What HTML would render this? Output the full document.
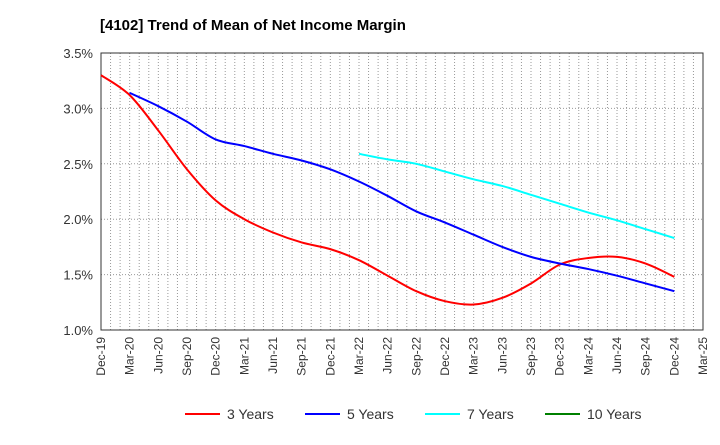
<!DOCTYPE html>
<html><head><meta charset="utf-8"><style>
body{margin:0;background:#fff;font-family:"Liberation Sans",Arial,sans-serif}
</style></head><body>
<svg id="chart" width="720" height="440" xmlns="http://www.w3.org/2000/svg">
<text x="100" y="30" font-size="15" font-weight="bold" fill="#000">[4102]  Trend of Mean of Net Income Margin</text>
<g id="grid"></g><g id="axes"></g><g id="series"></g><g id="legend"></g>
</svg>
<script>
const categories=["Dec-19","Mar-20","Jun-20","Sep-20","Dec-20","Mar-21","Jun-21","Sep-21","Dec-21","Mar-22","Jun-22","Sep-22","Dec-22","Mar-23","Jun-23","Sep-23","Dec-23","Mar-24","Jun-24","Sep-24","Dec-24","Mar-25"];
const yTicks=[1.0,1.5,2.0,2.5,3.0,3.5];
const y3=[3.30,3.12,2.80,2.45,2.17,2.00,1.88,1.79,1.73,1.63,1.49,1.35,1.26,1.23,1.29,1.42,1.59,1.65,1.66,1.60,1.48];
const y5=[null,3.14,3.02,2.88,2.72,2.66,2.59,2.53,2.45,2.34,2.21,2.07,1.97,1.86,1.75,1.66,1.60,1.55,1.49,1.42,1.35];
const y7=[null,null,null,null,null,null,null,null,null,2.59,2.54,2.50,2.43,2.36,2.30,2.22,2.14,2.06,1.99,1.91,1.83];
const y10=[];
const seriesNames=["3 Years","5 Years","7 Years","10 Years"];
const colors=["#ff0000","#0000ff","#00ffff","#008000"];
const L=101,R=703,T=53,B=330,NS="http://www.w3.org/2000/svg";
const xs=i=>L+i*(R-L)/(categories.length-1);
const ys=v=>B-(v-1.0)/(3.5-1.0)*(B-T);
function mk(t,a,p){const e=document.createElementNS(NS,t);for(const k in a)e.setAttribute(k,a[k]);p.appendChild(e);return e;}
const grid=document.getElementById('grid'),axes=document.getElementById('axes'),ser=document.getElementById('series'),leg=document.getElementById('legend');
for(let m=1;m<(categories.length-1)*3;m++){const x=L+m*(R-L)/((categories.length-1)*3);
 const g=mk('line',{x1:x,x2:x,y1:T,y2:B,stroke:'#999','stroke-dasharray':'1,2','stroke-width':1},grid);
 }
yTicks.forEach(v=>{const y=ys(v);
 const g=mk('line',{x1:L,x2:R,y1:y,y2:y,stroke:'#999','stroke-dasharray':'1,2'},grid);
 
 const t=mk('text',{x:L-8,y:y+5,'text-anchor':'end','font-size':13,fill:'#333'},axes);t.textContent=v.toFixed(1)+'%';
 });
categories.forEach((c,i)=>{const x=xs(i);
 const t=mk('text',{x:0,y:0,'text-anchor':'end','font-size':12,fill:'#333',transform:`translate(${x+4},${B+7}) rotate(-90)`},axes);t.textContent=c;
 });
const fr=mk('rect',{x:L,y:T,width:R-L,height:B-T,fill:'none',stroke:'#333','stroke-width':1},axes);

function path(vals){const p=[];vals.forEach((v,i)=>{if(v!=null)p.push([xs(i),ys(v)]);});
 if(p.length<2)return '';let d=`M${p[0][0]},${p[0][1]}`;
 for(let i=0;i<p.length-1;i++){const p0=p[i-1]||p[i],p1=p[i],p2=p[i+1],p3=p[i+2]||p2;
  d+=` C${p1[0]+(p2[0]-p0[0])/6},${p1[1]+(p2[1]-p0[1])/6} ${p2[0]-(p3[0]-p1[0])/6},${p2[1]-(p3[1]-p1[1])/6} ${p2[0]},${p2[1]}`;}
 return d;}
[y3,y5,y7,y10].forEach((s,k)=>{const d=path(s);if(!d)return;
 const e=mk('path',{d:d,fill:'none',stroke:colors[k],'stroke-width':2},ser);
 });
const lx=[185,305,425,545];
seriesNames.forEach((n,k)=>{const g=mk('g',{},leg);
 
 mk('line',{x1:lx[k],x2:lx[k]+35,y1:414,y2:414,stroke:colors[k],'stroke-width':2},g);
 const t=mk('text',{x:lx[k]+42,y:419,'font-size':14,fill:'#333'},g);t.textContent=n;});
</script>
</body></html>
